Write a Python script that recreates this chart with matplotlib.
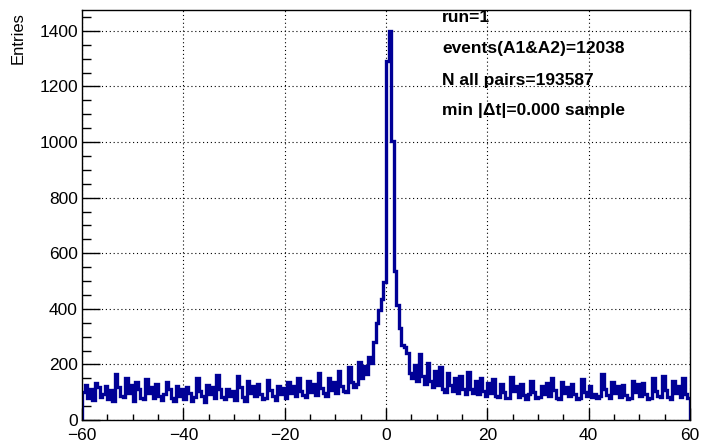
import numpy as np
import matplotlib
matplotlib.use('Agg')
import matplotlib.pyplot as plt
from matplotlib.ticker import MultipleLocator

# histogram range and binning (0.5 sample per bin)
x_lo, x_hi = -60, 60
n_bins = 240

# bin contents, 4 bins (2 samples) per row chunk, starting at -60
counts = [
    100, 125, 80, 112,   72, 133, 118, 84,    95, 122, 76, 108,   70, 165, 120, 88,
    82, 150, 98, 126,    68, 137, 112, 80,    74, 148, 96, 118,   80, 130, 88, 72,
    92, 138, 110, 78,    70, 124, 86, 112,    76, 118, 96, 70,     82, 150, 104, 88,
    66, 126, 92, 120,    80, 162, 112, 84,    74, 112, 86, 104,    72, 158, 118, 82,
    70, 140, 96, 122,    86, 128, 92, 74,     78, 145, 108, 88,    72, 122, 94, 116,
    80, 135, 96, 124,    88, 152, 106, 90,    82, 140, 102, 130,   90, 168, 116, 96,
    88, 150, 108, 138,   96, 178, 124, 104,  102, 192, 136, 118,  128, 210, 150, 195,
    165, 228, 205, 280,  350, 395, 435, 498,
    1290, 1400, 1005, 535,
    415, 330, 270, 262,  240, 170, 150, 198,  140, 237, 160, 128,  205, 140, 118, 175,
    125, 190, 112, 100,  170, 126, 104, 150,  98, 160, 110, 94,    172, 112, 96, 140,
    92, 150, 104, 86,
    132, 96, 148, 88,    84, 130, 102, 78,    80, 155, 106, 124,   84, 128, 90, 76,
    92, 142, 100, 78,    82, 122, 94, 132,    86, 150, 108, 80,    76, 136, 98, 120,
    88, 130, 92, 76,     80, 146, 102, 86,    122, 84, 94, 78,     86, 165, 112, 90,
    78, 138, 96, 124,    84, 126, 90, 76,     78, 142, 100, 130,   86, 132, 94, 74,
    80, 150, 104, 88,    84, 160, 108, 82,    76, 140, 96, 124,    84, 150, 92, 80,
]

info_lines = ['run=1', 'events(A1&A2)=12038', 'N all pairs=193587', 'min |Δt|=0.000 sample']
y_label = 'Entries'

plt.rcParams['font.family'] = ['Liberation Sans', 'DejaVu Sans']

W, H = 702, 442
fig = plt.figure(figsize=(W / 100, H / 100), dpi=100)
ax = fig.add_axes([82 / W, 1 - 420 / H, (690 - 82) / W, (420 - 10) / H])

edges = np.linspace(x_lo, x_hi, n_bins + 1)
ax.stairs(counts, edges, color='#000096', linewidth=2.4)

ax.set_xlim(x_lo, x_hi)
ax.set_ylim(0, 1475)

ax.xaxis.set_major_locator(MultipleLocator(20))
ax.xaxis.set_minor_locator(MultipleLocator(5))
ax.yaxis.set_major_locator(MultipleLocator(200))
ax.yaxis.set_minor_locator(MultipleLocator(50))

ax.tick_params(axis='both', which='both', direction='in', top=False, right=False,
               labelsize=12.5, width=1)
ax.tick_params(axis='y', which='major', length=13, pad=3)
ax.tick_params(axis='y', which='minor', length=6.5)
ax.tick_params(axis='x', which='major', length=8.5, pad=5.5)
ax.tick_params(axis='x', which='minor', length=4.3)

ax.grid(True, which='major', color='black', linestyle=(0, (1, 2.5)), linewidth=0.8)
ax.set_axisbelow(True)
for s in ax.spines.values():
    s.set_linewidth(1)

fig.text(18 / W, 1 - 12 / H, y_label, rotation=90, ha='center', va='top', fontsize=12)

ys = [17, 49, 80, 111]
for txt, y in zip(info_lines, ys):
    fig.text(442 / W, 1 - y / H, txt, ha='left', va='center', fontsize=12.5,
             fontweight='bold')

fig.savefig('out.png', dpi=100)
